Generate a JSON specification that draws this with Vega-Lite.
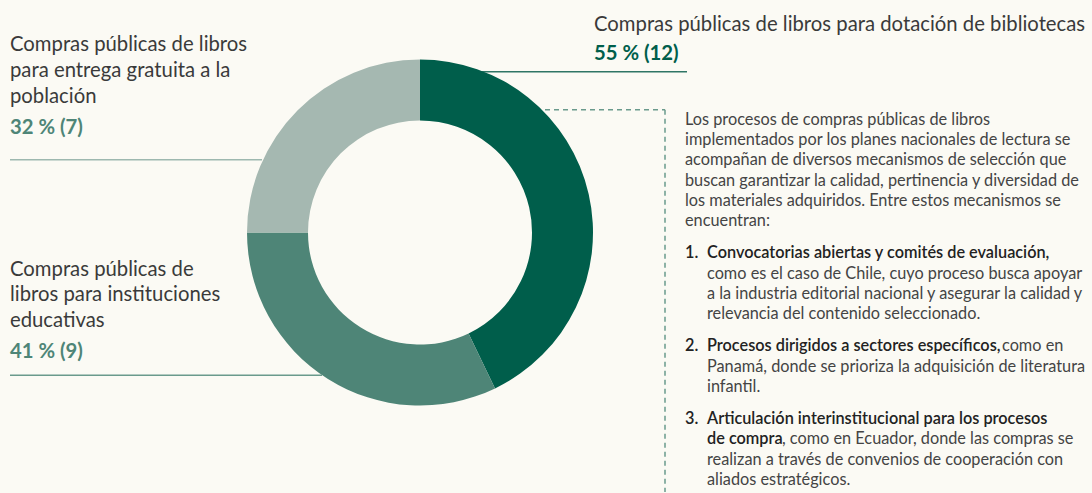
{
  "$schema": "https://vega.github.io/schema/vega-lite/v6.json",
  "width": 1092,
  "height": 493,
  "padding": 0,
  "autosize": {"type": "fit", "contains": "padding"},
  "background": "#fbfaf4",
  "config": {"view": {"stroke": null}, "font": "Lato"},
  "resolve": {"scale": {"color": "independent"}},
  "datasets": {
    "segmentos": [
      {"categoria": "Compras públicas de libros para dotación de bibliotecas", "valor": 12, "orden": 1},
      {"categoria": "Compras públicas de libros para instituciones educativas", "valor": 9, "orden": 2},
      {"categoria": "Compras públicas de libros para entrega gratuita a la población", "valor": 7, "orden": 3}
    ],
    "lineas": [
      {"x": 420, "x2": 687, "y": 72, "y2": 72, "tipo": "oscura"},
      {"x": 10, "x2": 262, "y": 160, "y2": 160, "tipo": "clara"},
      {"x": 10, "x2": 322, "y": 376, "y2": 376, "tipo": "media"},
      {"x": 545, "x2": 665, "y": 110, "y2": 110, "tipo": "guia"},
      {"x": 665, "x2": 665, "y": 110, "y2": 493, "tipo": "guia"}
    ],
    "textos": [
      {"texto": "Compras públicas de libros para dotación de bibliotecas", "x": 594, "y": 25, "tipo": "etiqueta"},
      {"texto": "Compras públicas de libros", "x": 10, "y": 45, "tipo": "etiqueta"},
      {"texto": "para entrega gratuita a la", "x": 10, "y": 71, "tipo": "etiqueta"},
      {"texto": "población", "x": 10, "y": 97, "tipo": "etiqueta"},
      {"texto": "Compras públicas de", "x": 10, "y": 271, "tipo": "etiqueta"},
      {"texto": "libros para instituciones", "x": 10, "y": 296, "tipo": "etiqueta"},
      {"texto": "educativas", "x": 10, "y": 322, "tipo": "etiqueta"},
      {"texto": "55 % (12)", "x": 594, "y": 54, "tipo": "porcentaje", "valor": 12},
      {"texto": "32 % (7)", "x": 10, "y": 128, "tipo": "porcentaje", "valor": 7},
      {"texto": "41 % (9)", "x": 10, "y": 353, "tipo": "porcentaje", "valor": 9},
      {"texto": "Los procesos de compras públicas de libros", "x": 685, "y": 120, "tipo": "parrafo"},
      {"texto": "implementados por los planes nacionales de lectura se", "x": 685, "y": 140.3, "tipo": "parrafo"},
      {"texto": "acompañan de diversos mecanismos de selección que", "x": 685, "y": 160.6, "tipo": "parrafo"},
      {"texto": "buscan garantizar la calidad, pertinencia y diversidad de", "x": 685, "y": 180.9, "tipo": "parrafo"},
      {"texto": "los materiales adquiridos. Entre estos mecanismos se", "x": 685, "y": 201.2, "tipo": "parrafo"},
      {"texto": "encuentran:", "x": 685, "y": 221.5, "tipo": "parrafo"},
      {"texto": "1.", "x": 685, "y": 253.8, "tipo": "numero"},
      {"texto": "Convocatorias abiertas y comités de evaluación,", "x": 707, "y": 253.8, "tipo": "destacado"},
      {"texto": "como es el caso de Chile, cuyo proceso busca apoyar", "x": 707, "y": 274.1, "tipo": "parrafo"},
      {"texto": "a la industria editorial nacional y asegurar la calidad y", "x": 707, "y": 294.4, "tipo": "parrafo"},
      {"texto": "relevancia del contenido seleccionado.", "x": 707, "y": 314.7, "tipo": "parrafo"},
      {"texto": "2.", "x": 685, "y": 347, "tipo": "numero"},
      {"texto": "Procesos dirigidos a sectores específicos,", "x": 707, "y": 347, "tipo": "destacado"},
      {"texto": "como en", "x": 1002, "y": 347, "tipo": "parrafo"},
      {"texto": "Panamá, donde se prioriza la adquisición de literatura", "x": 707, "y": 367.3, "tipo": "parrafo"},
      {"texto": "infantil.", "x": 707, "y": 387.6, "tipo": "parrafo"},
      {"texto": "3.", "x": 685, "y": 420, "tipo": "numero"},
      {"texto": "Articulación interinstitucional para los procesos", "x": 707, "y": 420, "tipo": "destacado"},
      {"texto": "de compra", "x": 707, "y": 440.3, "tipo": "destacado"},
      {"texto": ", como en Ecuador, donde las compras se", "x": 782, "y": 440.3, "tipo": "parrafo"},
      {"texto": "realizan a través de convenios de cooperación con", "x": 707, "y": 460.6, "tipo": "parrafo"},
      {"texto": "aliados estratégicos.", "x": 707, "y": 480.9, "tipo": "parrafo"}
    ]
  },
  "layer": [
    {
      "data": {"name": "lineas"},
      "transform": [{"filter": "datum.tipo !== 'guia'"}],
      "mark": {"type": "rule", "strokeWidth": 1.5},
      "encoding": {
        "x": {"field": "x", "type": "quantitative", "scale": {"domain": [0, 1092], "nice": false, "zero": false}, "axis": null},
        "x2": {"field": "x2"},
        "y": {"field": "y", "type": "quantitative", "scale": {"domain": [0, 493], "nice": false, "zero": false, "reverse": true}, "axis": null},
        "y2": {"field": "y2"},
        "stroke": {"field": "tipo", "type": "nominal", "scale": {"domain": ["oscura", "clara", "media"], "range": ["#2f7565", "#9db8af", "#6a9a8c"]}, "legend": null}
      }
    },
    {
      "data": {"name": "lineas"},
      "transform": [{"filter": "datum.tipo === 'guia'"}],
      "mark": {"type": "rule", "strokeWidth": 1.5, "strokeDash": [5, 4], "color": "#6a9a8c"},
      "encoding": {
        "x": {"field": "x", "type": "quantitative"},
        "x2": {"field": "x2"},
        "y": {"field": "y", "type": "quantitative"},
        "y2": {"field": "y2"}
      }
    },
    {
      "data": {"name": "segmentos"},
      "mark": {"type": "arc", "radius": 173, "radius2": 112, "x": {"expr": "scale('x', 420)"}, "y": {"expr": "scale('y', 233)"}},
      "encoding": {
        "theta": {"field": "valor", "type": "quantitative", "stack": true},
        "order": {"field": "orden", "type": "quantitative"},
        "fill": {"field": "categoria", "type": "nominal", "sort": null, "scale": {"range": ["#005e4b", "#4e8577", "#a5b8b1"]}, "legend": null}
      }
    },
    {
      "data": {"name": "textos"},
      "transform": [{"filter": "datum.tipo === 'etiqueta'"}],
      "mark": {"type": "text", "align": "left", "baseline": "middle", "fontSize": 20.3, "color": "#3a3a3a"},
      "encoding": {
        "x": {"field": "x", "type": "quantitative"},
        "y": {"field": "y", "type": "quantitative"},
        "text": {"field": "texto"}
      }
    },
    {
      "data": {"name": "textos"},
      "transform": [{"filter": "datum.tipo === 'porcentaje'"}],
      "mark": {"type": "text", "align": "left", "baseline": "middle", "fontSize": 20.3, "fontWeight": "bold"},
      "encoding": {
        "x": {"field": "x", "type": "quantitative"},
        "y": {"field": "y", "type": "quantitative"},
        "text": {"field": "texto"},
        "color": {"condition": {"test": "datum.valor === 12", "value": "#005e4b"}, "value": "#4e8577"}
      }
    },
    {
      "data": {"name": "textos"},
      "transform": [{"filter": "datum.tipo === 'parrafo'"}],
      "mark": {"type": "text", "align": "left", "baseline": "middle", "fontSize": 16.3, "color": "#444444"},
      "encoding": {
        "x": {"field": "x", "type": "quantitative"},
        "y": {"field": "y", "type": "quantitative"},
        "text": {"field": "texto"}
      }
    },
    {
      "data": {"name": "textos"},
      "transform": [{"filter": "datum.tipo === 'destacado' || datum.tipo === 'numero'"}],
      "mark": {"type": "text", "align": "left", "baseline": "middle", "fontSize": 16.3, "fontWeight": 600, "color": "#222222"},
      "encoding": {
        "x": {"field": "x", "type": "quantitative"},
        "y": {"field": "y", "type": "quantitative"},
        "text": {"field": "texto"}
      }
    }
  ]
}
